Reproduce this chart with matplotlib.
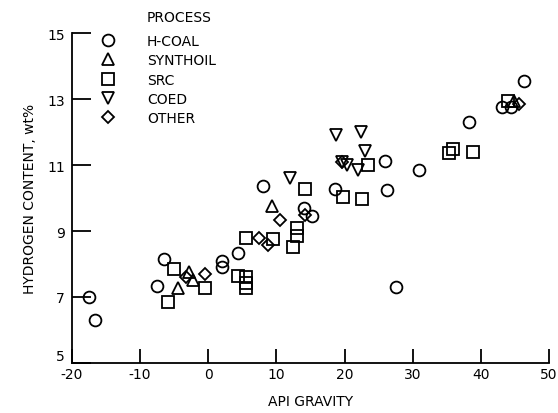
import matplotlib
matplotlib.use('Agg')
import matplotlib.pyplot as plt

plt.rcParams['axes.unicode_minus'] = False

# H-COAL
hc_x = [-17.5, -16.6, -7.5, -6.5, 2.0, 2.0, 4.4, 8.1, 14.0, 15.2, 18.6, 26.0, 26.3, 27.6, 31.0, 38.2, 43.1, 44.5, 46.4]
hc_y = [7.0, 6.3, 7.32, 8.15, 8.1, 7.9, 8.33, 10.35, 9.7, 9.46, 10.28, 11.13, 10.24, 7.3, 10.86, 12.29, 12.75, 12.75, 13.54]
# SYNTHOIL
sy_x = [-4.4, -2.8, -2.3, 9.4, 44.8]
sy_y = [7.28, 7.75, 7.5, 9.77, 12.95]
# SRC
src_x = [-5.9, -5.0, -0.5, 4.3, 5.6, 5.6, 5.6, 5.6, 9.5, 12.4, 13.0, 13.0, 14.2, 19.8, 22.5, 23.4, 35.4, 35.9, 38.8, 44.0]
src_y = [6.86, 7.85, 7.27, 7.63, 7.6, 7.42, 7.27, 8.78, 8.75, 8.52, 8.84, 9.09, 10.26, 10.02, 9.97, 11.0, 11.35, 11.48, 11.38, 12.95]
# COED
co_x = [12.0, 18.8, 22.4, 23.0, 19.6, 20.4, 22.0]
co_y = [10.62, 11.92, 11.99, 11.43, 11.08, 11.0, 10.86]
# OTHER
ot_x = [-3.2, -0.5, 7.4, 8.7, 10.5, 14.2, 19.6, 45.6]
ot_y = [7.6, 7.7, 8.78, 8.57, 9.34, 9.48, 11.1, 12.85]

x_ticks = [-20, -10, 0, 10, 20, 30, 40, 50]
y_ticks = [5, 7, 9, 11, 13, 15]

fig = plt.figure(figsize=(5.58, 4.14), dpi=100)
ax = fig.add_axes([0.129, 0.1208, 0.8548, 0.797])

kw = dict(linestyle='none', markerfacecolor='none', markeredgecolor='black',
          markeredgewidth=1.3, clip_on=False)
ax.plot(hc_x, hc_y, marker='o', markersize=8.5, label='H-COAL', **kw)
ax.plot(sy_x, sy_y, marker='^', markersize=8.5, label='SYNTHOIL', **kw)
ax.plot(src_x, src_y, marker='s', markersize=8.5, label='SRC', **kw)
ax.plot(co_x, co_y, marker='v', markersize=8.5, label='COED', **kw)
ax.plot(ot_x, ot_y, marker='D', markersize=6.5, label='OTHER', **kw)

ax.set_xlim(-20, 50)
ax.set_ylim(5, 15)
ax.set_xticks(x_ticks)
ax.set_yticks(y_ticks)
ax.spines['top'].set_visible(False)
ax.spines['right'].set_visible(False)
ax.spines['left'].set_linewidth(1.3)
ax.spines['bottom'].set_linewidth(1.3)
ax.tick_params(axis='y', direction='in', length=14, width=1.3, pad=5, labelsize=10)
ax.tick_params(axis='x', direction='in', length=10, width=1.3, pad=3, labelsize=10)
# lift the "5" a little so it sits above the x labels, as in the original
ax.get_yticklabels()[0].set_va('bottom')

ax.set_xlabel('API GRAVITY', fontsize=10)
ax.set_ylabel('HYDROGEN CONTENT, wt%', fontsize=10)
ax.xaxis.set_label_coords(0.50, -0.095)
ax.yaxis.set_label_coords(-0.073, 0.5)

ax.legend(loc='upper left', bbox_to_anchor=(0.061, 0.997), frameon=False,
          borderpad=0, borderaxespad=0, handlelength=1.0, handletextpad=2.3,
          labelspacing=0.38, fontsize=10)
ax.text(0.157, 1.048, 'PROCESS', transform=ax.transAxes, fontsize=10,
        ha='left', va='center')

fig.savefig('out.png', dpi=100)
